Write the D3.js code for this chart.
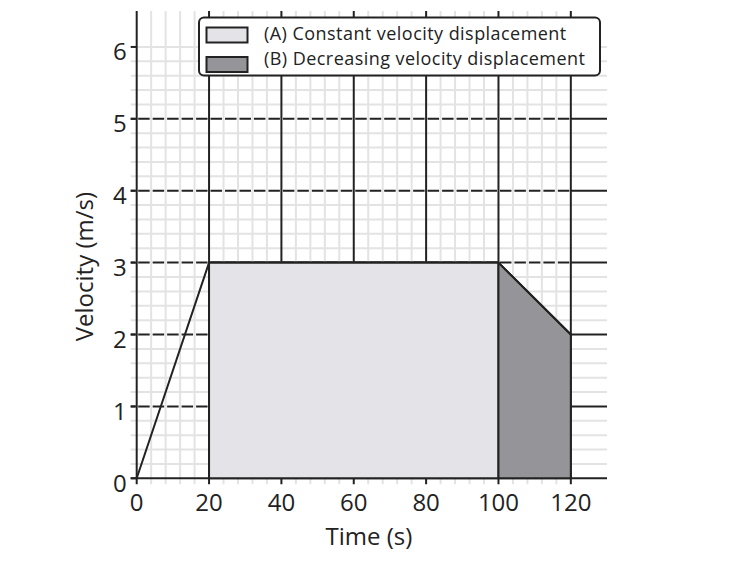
<!DOCTYPE html>
<html>
<head>
<meta charset="utf-8">
<script src="https://cdn.jsdelivr.net/npm/d3@7"></script>
<style>
  html, body { margin: 0; padding: 0; background: #fff; }
  svg { display: block; }
  text { font-family: "Open Sans", sans-serif; fill: #222; }
</style>
</head>
<body>
<svg id="chart" width="755" height="568"></svg>
<script>
// ---- data ----
const timeTicks = [0, 20, 40, 60, 80, 100, 120];
const velocityTicks = [0, 1, 2, 3, 4, 5, 6];
const dashedVelocityLines = [1, 2, 3, 4, 5];
const motionTime = [0, 20, 100, 120];
const motionVelocity = [0, 3, 3, 2];
const regionATime = [20, 100];
const regionAVelocity = [3, 3];
const regionBTime = [100, 120];
const regionBVelocity = [3, 2];
const legendLabels = ["(A) Constant velocity displacement", "(B) Decreasing velocity displacement"];
const xTitle = "Time (s)";
const yTitle = "Velocity (m/s)";

// ---- layout ----
const W = 755, H = 568;
const margin = { left: 136.7, top: 11, right: 148, bottom: 89.7 };
const xMax = 130, yMax = 6.5, xGridMax = 120, yGridMax = 6;
const minorX = 4, minorY = 0.2;
const ext = 6;

const svg = d3.select("#chart");
const x = d3.scaleLinear().domain([0, xMax]).range([margin.left, W - margin.right]);
const y = d3.scaleLinear().domain([0, yMax]).range([H - margin.bottom, margin.top]);

const dark = "#222";
const minorColor = "#e3e3e3";

// minor vertical grid
const minorXs = d3.range(minorX, xGridMax, minorX).filter(t => t % 20 !== 0);
svg.append("g").selectAll("line").data(minorXs).join("line")
  .attr("x1", d => x(d)).attr("x2", d => x(d))
  .attr("y1", y(yMax)).attr("y2", y(0) + ext)
  .attr("stroke", minorColor).attr("stroke-width", 2);

// minor horizontal grid
const minorYs = d3.range(1, Math.round(yGridMax / minorY) + 1).map(i => +(i * minorY).toFixed(2))
  .filter(v => !dashedVelocityLines.includes(Math.round(v * 100) / 100));
svg.append("g").selectAll("line").data(minorYs).join("line")
  .attr("x1", x(0) - ext).attr("x2", x(xMax))
  .attr("y1", d => y(d)).attr("y2", d => y(d))
  .attr("stroke", minorColor).attr("stroke-width", 2);

// major dashed horizontals, gaps centred on minor verticals
const period = x(minorX) - x(0);
const gap = 3;
const xs = x(0) - ext;
let off = (period - gap / 2 - (x(0) - xs)) % period;
if (off < 0) off += period;
svg.append("g").selectAll("line").data(dashedVelocityLines).join("line")
  .attr("x1", xs).attr("x2", x(xGridMax))
  .attr("y1", d => y(d)).attr("y2", d => y(d))
  .attr("stroke", dark).attr("stroke-width", 2)
  .attr("stroke-dasharray", `${period - gap},${gap}`)
  .attr("stroke-dashoffset", off);
svg.append("g").selectAll("line").data(dashedVelocityLines).join("line")
  .attr("x1", x(xGridMax)).attr("x2", x(xMax))
  .attr("y1", d => y(d)).attr("y2", d => y(d))
  .attr("stroke", dark).attr("stroke-width", 2);

// major verticals
svg.append("g").selectAll("line").data(timeTicks.filter(t => t > 0)).join("line")
  .attr("x1", d => x(d)).attr("x2", d => x(d))
  .attr("y1", y(yMax)).attr("y2", y(0) + ext)
  .attr("stroke", dark).attr("stroke-width", 2);

// axes lines
svg.append("line").attr("x1", x(0)).attr("x2", x(0)).attr("y1", y(yMax)).attr("y2", y(0) + ext)
  .attr("stroke", dark).attr("stroke-width", 2);
svg.append("line").attr("x1", x(0) - ext).attr("x2", x(xMax)).attr("y1", y(0)).attr("y2", y(0))
  .attr("stroke", dark).attr("stroke-width", 2);
// y ticks (including 6)
svg.append("g").selectAll("line").data(velocityTicks).join("line")
  .attr("x1", x(0) - ext).attr("x2", x(0))
  .attr("y1", d => y(d)).attr("y2", d => y(d))
  .attr("stroke", dark).attr("stroke-width", 2);

// regions
const ptsA = regionATime.map((t, i) => [t, regionAVelocity[i]]);
const ptsB = regionBTime.map((t, i) => [t, regionBVelocity[i]]);
function closedPath(pts) {
  const p = d3.path();
  p.moveTo(x(pts[0][0]), y(0));
  pts.forEach(d => p.lineTo(x(d[0]), y(d[1])));
  p.lineTo(x(pts[pts.length - 1][0]), y(0));
  p.closePath();
  return p.toString();
}
svg.append("path").attr("d", closedPath(ptsA)).attr("fill", "#e4e3e8")
  .attr("stroke", dark).attr("stroke-width", 2).attr("stroke-linejoin", "round");
svg.append("path").attr("d", closedPath(ptsB)).attr("fill", "#959499")
  .attr("stroke", dark).attr("stroke-width", 2).attr("stroke-linejoin", "round");

// velocity line
const line = d3.line().x(d => x(d[0])).y(d => y(d[1]));
svg.append("path").datum(motionTime.map((t, i) => [t, motionVelocity[i]]))
  .attr("d", line).attr("fill", "none").attr("stroke", dark).attr("stroke-width", 2)
  .attr("stroke-linejoin", "round");

// tick labels
svg.append("g").selectAll("text").data(timeTicks).join("text")
  .attr("x", d => x(d)).attr("y", y(0) + 33)
  .attr("text-anchor", "middle").attr("font-size", 24).text(d => d);
svg.append("g").selectAll("text").data(velocityTicks).join("text")
  .attr("x", x(0) - 10).attr("y", d => y(d) + 13.5)
  .attr("text-anchor", "end").attr("font-size", 24).text(d => d);

// axis titles
svg.append("text").attr("x", (x(0) + x(xMax)) / 2 - 3).attr("y", 545)
  .attr("text-anchor", "middle").attr("font-size", 24).text(xTitle);
svg.append("text").attr("transform", `translate(93,${y(3) + 4}) rotate(-90)`)
  .attr("text-anchor", "middle").attr("font-size", 24).text(yTitle);

// legend
const lg = svg.append("g");
lg.append("rect").attr("x", 199).attr("y", 17.5).attr("width", 401).attr("height", 58)
  .attr("rx", 5).attr("fill", "#fff").attr("stroke", dark).attr("stroke-width", 2);
const swatchFill = ["#e4e3e8", "#959499"];
const swatchY = [27.5, 57];
const textY = [40, 65];
legendLabels.forEach((lab, i) => {
  lg.append("rect").attr("x", 206.5).attr("y", swatchY[i]).attr("width", 41).attr("height", 15)
    .attr("fill", swatchFill[i]).attr("stroke", dark).attr("stroke-width", 2);
  lg.append("text").attr("x", 264).attr("y", textY[i]).attr("font-size", 18)
    .attr("letter-spacing", 0.45).text(lab);
});
</script>
</body>
</html>
